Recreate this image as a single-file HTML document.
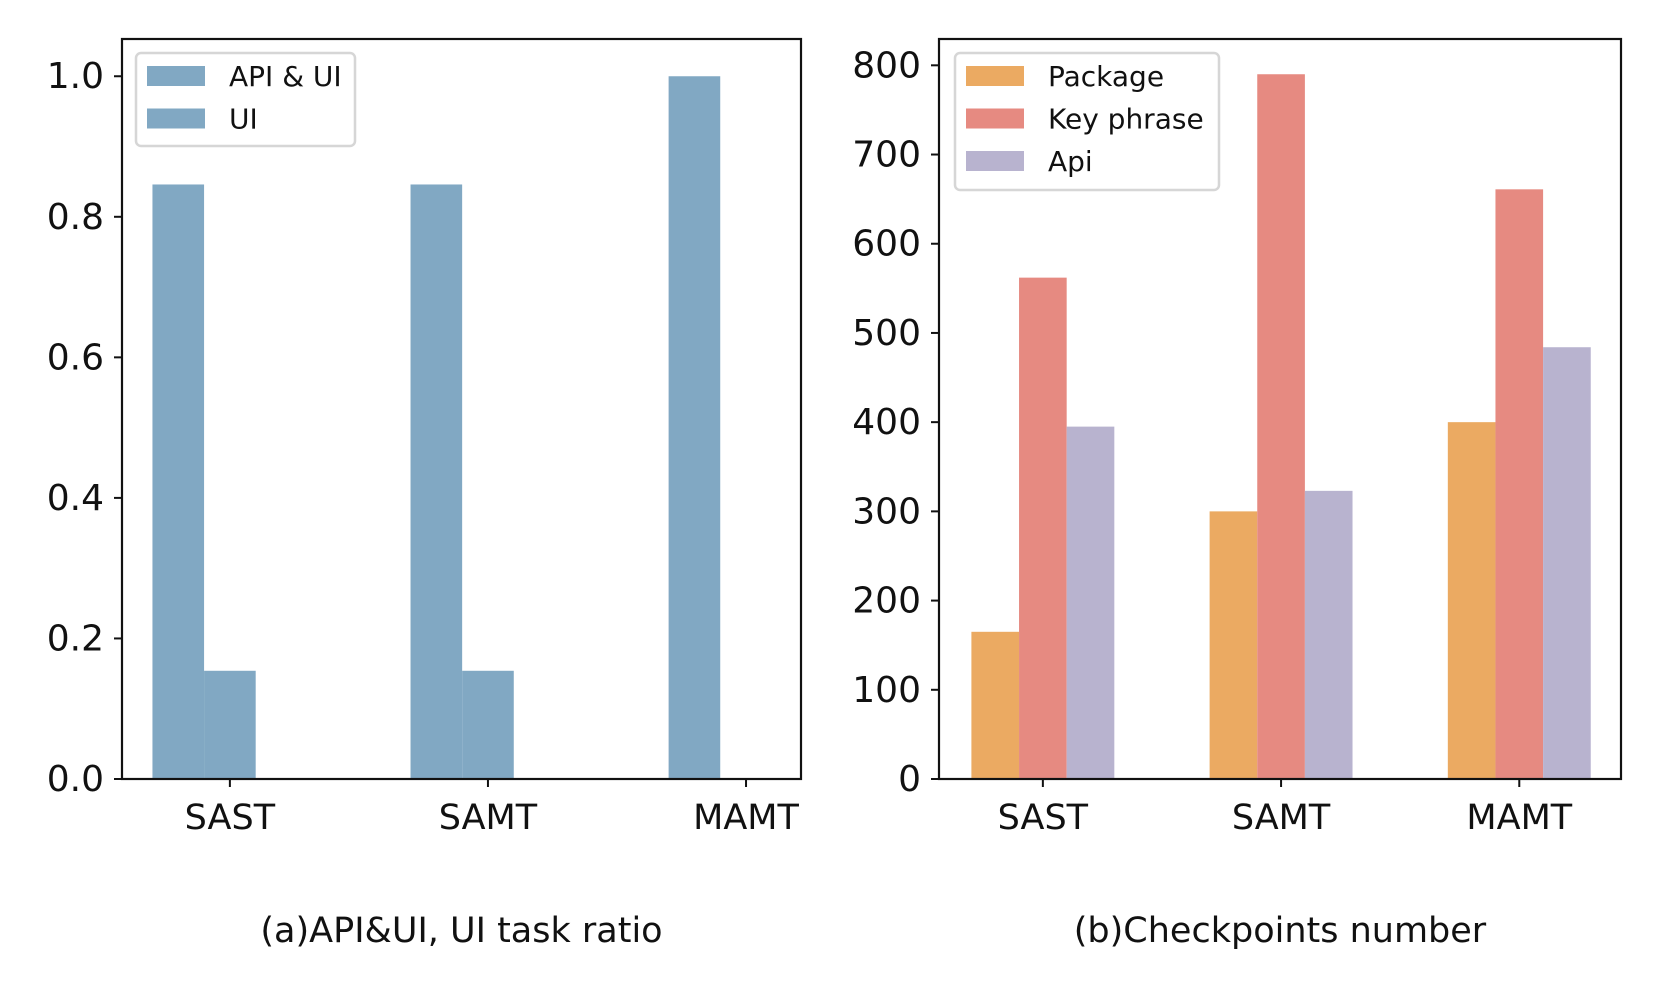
<!DOCTYPE html>
<html><head><meta charset="utf-8"><style>
html,body{margin:0;padding:0;background:#fff;width:1660px;height:996px;overflow:hidden}
svg text{font-family:"DejaVu Sans","Liberation Sans",sans-serif;fill:#111}
</style></head><body>
<svg id="c" width="1660" height="996" viewBox="0 0 1660 996" xmlns="http://www.w3.org/2000/svg"></svg>
<script>
const categories = ["SAST","SAMT","MAMT"];
const apiUiRatio = [0.846, 0.846, 1.0];
const uiRatio = [0.154, 0.154, 0.0];
const leftTicks = [0.0,0.2,0.4,0.6,0.8,1.0];
const leftTickLabels = ["0.0","0.2","0.4","0.6","0.8","1.0"];
const packageCounts = [165, 300, 400];
const keyPhraseCounts = [562, 790, 661];
const apiCounts = [395, 323, 484];
const rightTicks = [0,100,200,300,400,500,600,700,800];
const rightTickLabels = ["0","100","200","300","400","500","600","700","800"];

const svg = document.getElementById('c');
const NS = "http://www.w3.org/2000/svg";
function mk(tag, attrs, parent){
  const e = document.createElementNS(NS, tag);
  for (const k in attrs) e.setAttribute(k, attrs[k]);
  (parent||svg).appendChild(e);
  return e;
}
function txt(s, attrs, parent){ const t = mk('text', attrs, parent); t.textContent = s; return t; }

function panel(cfg){
  const g = mk('g', {});
  
  
  const {x0,x1,y0,y1,xmin,xmax,ymin,ymax} = cfg;
  const sx = v => x0 + (v - xmin)/(xmax - xmin)*(x1 - x0);
  const sy = v => y1 - (v - ymin)/(ymax - ymin)*(y1 - y0);
  cfg.series.forEach(s => {
    s.values.forEach((v,i) => {
      if (v <= 0) return;
      const cx = sx(i + s.offset);
      const w = sx(0.2) - sx(0);
      const r = mk('rect', {x:(cx - w/2).toFixed(2), y:sy(v).toFixed(2), width:w.toFixed(2), height:(sy(0)-sy(v)).toFixed(2), fill:s.color}, g);
      
      
    });
  });
  const f = mk('rect', {x:x0, y:y0, width:x1-x0, height:y1-y0, fill:'none', stroke:'#111', 'stroke-width':2.2}, g);
  
  
  cfg.yTicks.forEach((t,i) => {
    const y = sy(t);
    mk('line', {x1:x0-8, x2:x0, y1:y, y2:y, stroke:'#111', 'stroke-width':2}, g);
    const l = txt(cfg.yLabels[i], {x:x0-18, y:y+12, 'text-anchor':'end', 'font-size':36}, g);
    
    
  });
  categories.forEach((c,i) => {
    const x = sx(i);
    mk('line', {x1:x, x2:x, y1:y1, y2:y1+8, stroke:'#111', 'stroke-width':2}, g);
    const l = txt(c, {x:x, y:y1+50, 'text-anchor':'middle', 'font-size':35}, g);
    
    
  });
  const L = cfg.legend;
  const lg = mk('g', {}, g);
  
  
  mk('rect', {x:L.x, y:L.y, width:L.w, height:L.h, rx:5, fill:'#fff', 'fill-opacity':0.8, stroke:'#d6d6d6', 'stroke-width':2.5}, lg);
  L.items.forEach((it,i) => {
    const ry = L.y + 23 + i*42.5;
    const e = mk('g', {}, lg);
    
    
    mk('rect', {x:L.x+11, y:ry-10, width:58, height:20, fill:it.color}, e);
    txt(it.label, {x:L.x+93, y:ry+10, 'font-size':28}, e);
  });
  const cap = txt(cfg.caption, {x:(x0+x1)/2, y:942, 'text-anchor':'middle', 'font-size':35}, g);
  
  
}

panel({name:'chart-api-ui-ratio', x0:122, x1:801, y0:39, y1:779, xmin:-0.418, xmax:2.213, ymin:0, ymax:1.053,
  yTicks:leftTicks, yLabels:leftTickLabels,
  series:[{key:'api-ui', values:apiUiRatio, offset:-0.2, color:'#81a8c3'},
          {key:'ui', values:uiRatio, offset:0, color:'#81a8c3'}],
  legend:{x:136, y:53, w:219, h:93, items:[{label:'API & UI', color:'#81a8c3'},{label:'UI', color:'#81a8c3'}]},
  caption:'(a)API&UI, UI task ratio'});

panel({name:'chart-checkpoints', x0:939, x1:1621, y0:39, y1:779, xmin:-0.436, xmax:2.427, ymin:0, ymax:829.5,
  yTicks:rightTicks, yLabels:rightTickLabels,
  series:[{key:'package', values:packageCounts, offset:-0.2, color:'#ebaa62'},
          {key:'key-phrase', values:keyPhraseCounts, offset:0, color:'#e68a81'},
          {key:'api', values:apiCounts, offset:0.2, color:'#b8b3cf'}],
  legend:{x:955, y:53, w:264, h:137, items:[{label:'Package', color:'#ebaa62'},{label:'Key phrase', color:'#e68a81'},{label:'Api', color:'#b8b3cf'}]},
  caption:'(b)Checkpoints number'});
</script>
</body></html>
